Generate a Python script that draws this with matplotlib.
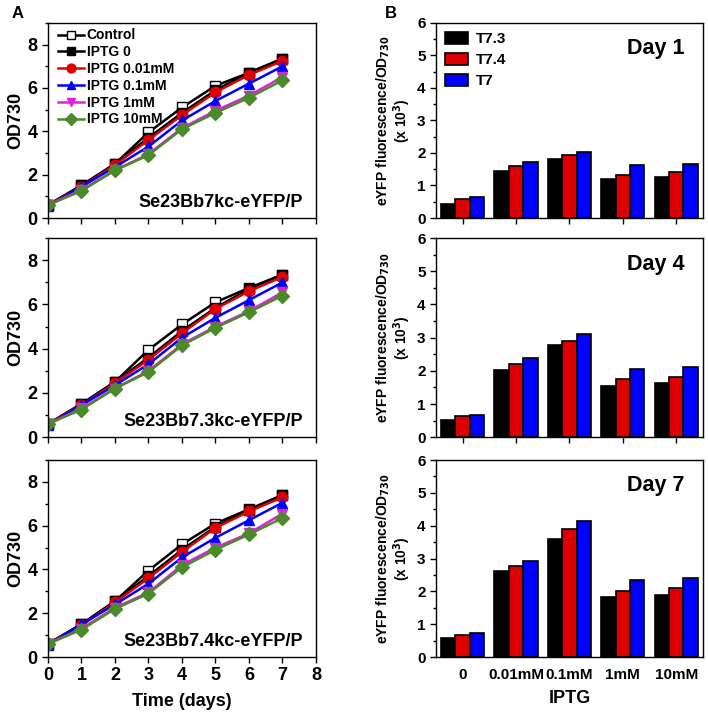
import numpy as np
import matplotlib
matplotlib.use('Agg')
import matplotlib.pyplot as plt
from matplotlib.ticker import MultipleLocator

plt.rcParams['font.family'] = ['Liberation Sans', 'DejaVu Sans']
plt.rcParams['font.weight'] = 'bold'
plt.rcParams['mathtext.default'] = 'bf'

#Growth curves (OD730) for the three strains
days = [0, 1, 2, 3, 4, 5, 6, 7]
strains = ['Se23Bb7kc-eYFP/P', 'Se23Bb7.3kc-eYFP/P', 'Se23Bb7.4kc-eYFP/P']
series_names = ['Control', 'IPTG 0', 'IPTG 0.01mM', 'IPTG 0.1mM', 'IPTG 1mM', 'IPTG 10mM']

od_7kc = [
    [0.6, 1.5, 2.5, 3.95, 5.1, 6.1, 6.7, 7.35],
    [0.6, 1.5, 2.5, 3.7, 4.85, 5.9, 6.7, 7.35],
    [0.6, 1.45, 2.45, 3.6, 4.75, 5.8, 6.6, 7.25],
    [0.55, 1.45, 2.35, 3.3, 4.5, 5.4, 6.2, 7.0],
    [0.6, 1.3, 2.2, 2.95, 4.15, 4.95, 5.65, 6.5],
    [0.6, 1.25, 2.2, 2.9, 4.1, 4.85, 5.55, 6.35],
]
od_73kc = [
    [0.6, 1.5, 2.5, 3.95, 5.1, 6.1, 6.75, 7.35],
    [0.6, 1.5, 2.5, 3.6, 4.8, 5.85, 6.7, 7.35],
    [0.6, 1.45, 2.45, 3.5, 4.7, 5.8, 6.6, 7.25],
    [0.55, 1.45, 2.35, 3.3, 4.5, 5.4, 6.2, 7.0],
    [0.6, 1.3, 2.2, 3.0, 4.2, 5.0, 5.7, 6.55],
    [0.6, 1.25, 2.2, 2.95, 4.15, 4.95, 5.65, 6.4],
]
od_74kc = [
    [0.6, 1.5, 2.55, 3.95, 5.15, 6.1, 6.75, 7.4],
    [0.6, 1.5, 2.55, 3.7, 4.9, 5.95, 6.7, 7.4],
    [0.6, 1.45, 2.5, 3.6, 4.8, 5.9, 6.65, 7.3],
    [0.55, 1.5, 2.4, 3.35, 4.55, 5.45, 6.25, 7.05],
    [0.6, 1.3, 2.25, 2.95, 4.2, 5.0, 5.65, 6.55],
    [0.6, 1.25, 2.2, 2.9, 4.1, 4.9, 5.6, 6.35],
]

#Fluorescence per OD (x10^3) by IPTG level
iptg_labels = ['0', '0.01mM', '0.1mM', '1mM', '10mM']
bar_names = ['T7.3', 'T7.4', 'T7']
day_titles = ['Day 1', 'Day 4', 'Day 7']
day1 = [[0.43, 1.45, 1.83, 1.2, 1.27],
        [0.6, 1.6, 1.93, 1.32, 1.4],
        [0.65, 1.72, 2.02, 1.62, 1.65]]
day4 = [[0.52, 2.04, 2.79, 1.54, 1.62],
        [0.63, 2.22, 2.91, 1.74, 1.82],
        [0.68, 2.38, 3.1, 2.06, 2.12]]
day7 = [[0.59, 2.63, 3.59, 1.84, 1.88],
        [0.66, 2.77, 3.9, 2.01, 2.1],
        [0.74, 2.92, 4.13, 2.35, 2.41]]

line_styles = [
    dict(color='black', marker='s', mfc='white', mec='black'),
    dict(color='black', marker='s', mfc='black', mec='black'),
    dict(color='#e00000', marker='o', mfc='#e00000', mec='#e00000'),
    dict(color='#0000ff', marker='^', mfc='#0000ff', mec='#0000ff'),
    dict(color='#e020e0', marker='v', mfc='#e020e0', mec='#e020e0'),
    dict(color='#4a8a2a', marker='D', mfc='#4a8a2a', mec='#4a8a2a'),
]
bar_colors = ['black', '#dd0000', '#0000ff']

fig = plt.figure(figsize=(7.08, 7.12), dpi=100)

rows = [(0.6938, 0.274), (0.386, 0.2795), (0.0772, 0.2767)]
left_axes = [fig.add_axes([0.0678, b, 0.3785, h]) for b, h in rows]
right_axes = [fig.add_axes([0.6158, b, 0.377, h]) for b, h in rows]

for i, (ax, data) in enumerate(zip(left_axes, [od_7kc, od_73kc, od_74kc])):
    for name, vals, st in zip(series_names, data, line_styles):
        ms = 7.5 if st['marker'] in ('o', 'D') else 7
        ax.plot(days, vals, lw=1.8, ms=ms, label=name, **st)
    ax.set_xlim(0, 8)
    ax.set_ylim(0, 9)
    ax.xaxis.set_major_locator(MultipleLocator(1))
    ax.yaxis.set_major_locator(MultipleLocator(2))
    ax.yaxis.set_minor_locator(MultipleLocator(1))
    ax.tick_params(direction='out', length=4, width=1, labelsize=13)
    ax.tick_params(which='minor', direction='out', length=2.5, width=1)
    ax.set_ylabel('OD730', fontsize=13, fontweight='bold', labelpad=2)
    ax.text(0.951, 0.08, strains[i], transform=ax.transAxes, ha='right', va='center',
            fontsize=13, fontweight='bold')
    if i < 2:
        ax.set_xticklabels([])
    else:
        ax.set_xlabel('Time (days)', fontsize=13, fontweight='bold', labelpad=6)
    for sp in ax.spines.values():
        sp.set_linewidth(1)
    if i == 0:
        ax.legend(loc='upper left', bbox_to_anchor=(0.015, 1.0), frameon=False,
                  fontsize=10, handlelength=1.9, handletextpad=0.2, labelspacing=0.2,
                  borderaxespad=0.0, markerscale=0.85)

x = np.arange(1, 6)
bw = 0.27
for i, (ax, data) in enumerate(zip(right_axes, [day1, day4, day7])):
    for k, (name, vals, col) in enumerate(zip(bar_names, data, bar_colors)):
        ax.bar(x + (k - 1) * bw, vals, width=bw, color=col, edgecolor='black',
               linewidth=1.2, label=name)
    ax.set_xlim(0.5, 5.5)
    ax.set_ylim(0, 6)
    ax.set_xticks(x)
    ax.yaxis.set_major_locator(MultipleLocator(1))
    ax.yaxis.set_minor_locator(MultipleLocator(0.5))
    ax.tick_params(axis='y', direction='out', length=4, width=1, labelsize=11)
    ax.tick_params(axis='y', which='minor', direction='out', length=2.5, width=1)
    ax.set_ylabel('eYFP fluorescence/OD$_{730}$\n(x 10$^3$)', fontsize=10,
                  fontweight='bold', linespacing=1.0)
    ax.yaxis.set_label_coords(-0.085, 0.5)
    ax.text(0.93, 0.87, day_titles[i], transform=ax.transAxes, ha='right', va='center',
            fontsize=15.5, fontweight='bold')
    if i < 2:
        ax.tick_params(axis='x', direction='out', length=4, width=1, labelbottom=False)
    else:
        ax.tick_params(axis='x', length=0, labelsize=11, pad=8)
        ax.set_xticklabels(iptg_labels)
        ax.set_xlabel('IPTG', fontsize=13, fontweight='bold', labelpad=6)
    for sp in ax.spines.values():
        sp.set_linewidth(1)
    if i == 0:
        ax.legend(loc='upper left', frameon=False, fontsize=11, handlelength=1.5,
                  handleheight=0.8, handletextpad=0.5, labelspacing=0.45,
                  borderaxespad=0.2)

fig.text(0.017, 0.992, 'A', fontsize=12, fontweight='bold', va='top')
fig.text(0.543, 0.992, 'B', fontsize=12, fontweight='bold', va='top')

fig.savefig('out.png', dpi=100)
